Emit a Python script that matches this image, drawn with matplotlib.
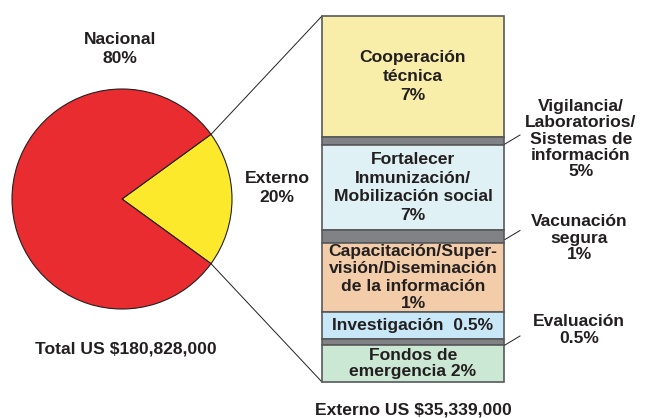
import matplotlib
matplotlib.use("Agg")
import matplotlib.pyplot as plt
import numpy as np

# ---- data ----
pie_labels = ["Externo", "Nacional"]
pie_values = [20, 80]
pie_colors = ["#FCE92C", "#E82C2F"]

seg_labels = [
    "Cooperación\ntécnica\n7%",
    "Vigilancia/\nLaboratorios/\nSistemas de\ninformación\n5%",
    "Fortalecer\nInmunización/\nMobilización social\n7%",
    "Vacunación\nsegura\n1%",
    "Capacitación/Super-\nvisión/Diseminación\nde la información\n1%",
    "Investigación  0.5%",
    "Evaluación\n0.5%",
    "Fondos de\nemergencia 2%",
]
seg_pct = [7, 5, 7, 1, 1, 0.5, 0.5, 2]
# drawn (stylised) segment heights
seg_drawn = [121, 8, 85, 13, 69, 27, 6, 37]
seg_colors = ["#F8EEAA", "#808285", "#DFF1F5", "#808285",
              "#F3CDA9", "#C8E8F8", "#808285", "#CBE8D4"]
seg_outside = [False, True, False, True, False, False, True, False]

total_text = "Total US $180,828,000"
ext_text = "Externo US $35,339,000"

# ---- layout ----
W, H = 647, 418
fig = plt.figure(figsize=(W / 100, H / 100), dpi=100)
ax = fig.add_axes([0, 0, 1, 1])

TXT = "#231F20"
FONT = dict(family="Liberation Sans", weight="bold", color=TXT)

cx, cy, r = 122, 199, 110
start = -pie_values[0] / 100 * 360 / 2
ax.pie(pie_values, colors=pie_colors, center=(cx, cy), radius=r,
       startangle=start, counterclock=True,
       wedgeprops=dict(edgecolor="#231F20", linewidth=0.8))

ax.set_xlim(0, W)
ax.set_ylim(H, 0)
ax.set_aspect("equal")
ax.axis("off")

# bar
bx0, bx1 = 322, 504
btop = 16
bottoms = btop + np.concatenate([[0], np.cumsum(seg_drawn)[:-1]])
ax.bar([(bx0 + bx1) / 2] * len(seg_drawn), seg_drawn, width=bx1 - bx0,
       bottom=bottoms, color=seg_colors, edgecolor="#58595B", linewidth=1.2,
       zorder=3)
bbot = btop + sum(seg_drawn)

# connectors from the external wedge to the bar
ang = np.deg2rad(pie_values[0] / 100 * 360 / 2)
p_top = (cx + r * np.cos(ang), cy - r * np.sin(ang))
p_bot = (cx + r * np.cos(ang), cy + r * np.sin(ang))
ax.plot([p_top[0], bx0], [p_top[1], btop], color="#231F20", lw=0.7, zorder=2)
ax.plot([p_bot[0], bx0], [p_bot[1], bbot], color="#231F20", lw=0.7, zorder=2)

fs = 12.6
# labels inside / outside bar
out_pos = {1: (581, 139), 3: (579, 238), 6: (579, 330)}
for i, (lab, h, b) in enumerate(zip(seg_labels, seg_drawn, bottoms)):
    mid = b + h / 2
    if seg_outside[i]:
        tx, ty = out_pos[i]
        ax.text(tx, ty, lab, ha="center", va="center", fontsize=fs,
                linespacing=1.1, **FONT)
        ax.plot([bx1 + 1, bx1 + 16], [mid + 3, mid - 6], color="#231F20",
                lw=0.7, zorder=4)
    else:
        ls = 1.05 if i == 7 else (1.2 if i == 4 else 1.3)
        ax.text((bx0 + bx1) / 2, mid, lab, ha="center", va="center",
                fontsize=fs, linespacing=ls, zorder=5, **FONT)

ax.text(120, 49, f"{pie_labels[1]}\n{pie_values[1]}%", ha="center", va="center",
        fontsize=fs, linespacing=1.35, **FONT)
ax.text(277, 188, f"{pie_labels[0]}\n{pie_values[0]}%", ha="center", va="center",
        fontsize=fs, linespacing=1.35, **FONT)
ax.text(126, 349, total_text, ha="center", va="center", fontsize=fs, **FONT)
ax.text(413, 410, ext_text, ha="center", va="center", fontsize=fs, **FONT)

fig.savefig("out.png", dpi=100)
